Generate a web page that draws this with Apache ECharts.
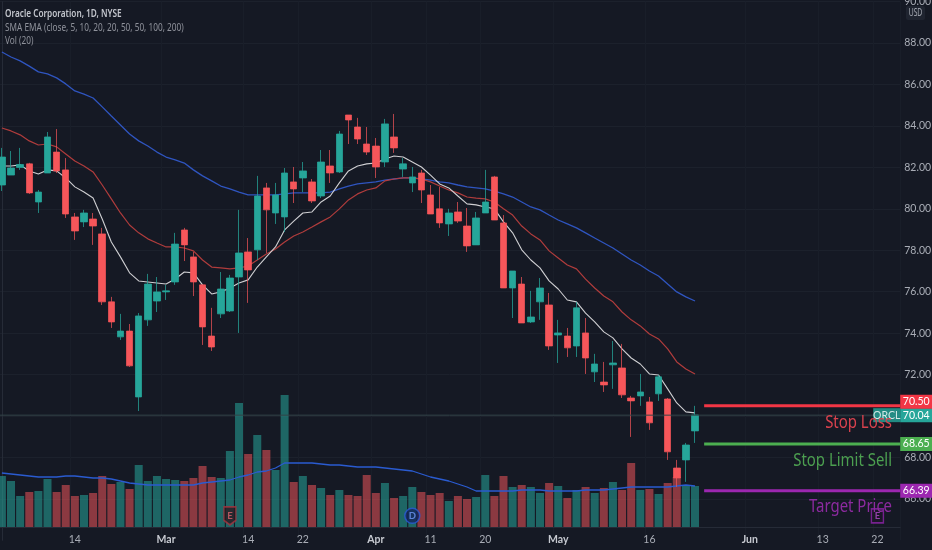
<!DOCTYPE html>
<html><head><meta charset="utf-8">
<style>html,body{margin:0;padding:0;background:#151924}#c{width:932px;height:550px}</style>
<script src="https://cdn.jsdelivr.net/npm/echarts@6/dist/echarts.min.js"></script>
</head><body><div id="c"></div>
<script>
const opens=[81.15,81.63,82.00,82.17,80.33,81.73,82.74,81.88,79.61,79.37,79.51,78.79,75.51,73.82,74.10,70.92,74.64,75.55,75.99,76.47,78.98,77.68,76.33,73.86,74.93,75.07,76.71,77.92,78.02,81.01,79.80,79.61,81.30,81.49,81.30,80.62,82.07,81.78,84.53,83.95,83.13,83.03,82.26,83.47,81.92,81.25,81.73,80.67,80.00,79.27,79.85,79.17,78.26,79.80,81.54,79.32,76.18,76.37,74.54,75.51,75.36,73.91,73.86,73.38,74.01,72.13,71.64,72.47,72.32,70.87,70.97,70.68,71.07,70.82,67.49,67.88,69.28];
const closes=[82.50,81.97,82.14,80.77,80.81,83.47,81.83,79.75,78.93,79.80,79.17,75.51,74.54,74.10,72.42,74.83,76.37,75.99,76.04,78.30,78.26,76.47,74.30,73.33,76.13,76.66,77.87,77.05,80.62,79.95,80.67,81.73,80.96,81.83,80.38,82.26,81.73,83.61,84.29,83.37,82.74,82.02,84.10,82.94,82.17,81.54,80.91,79.75,79.32,79.80,79.41,78.21,79.56,80.33,79.46,76.18,77.00,74.49,74.78,76.18,73.38,74.01,73.29,75.22,72.80,72.51,71.50,72.56,71.02,70.73,71.16,69.67,71.89,68.27,67.01,68.60,70.05];
const lows=[80.86,81.63,81.88,80.72,79.80,81.73,81.73,79.56,78.50,79.12,78.26,75.36,74.25,73.67,72.37,70.24,74.35,75.02,75.60,76.33,77.48,75.79,73.43,73.14,74.73,75.02,74.01,75.46,77.53,77.87,79.27,78.88,80.28,80.81,80.28,80.52,81.25,81.73,83.13,83.13,82.60,81.49,82.02,82.70,81.54,80.81,80.28,79.75,79.08,78.69,79.32,77.92,78.26,79.80,79.46,76.18,74.73,74.49,74.49,74.64,73.19,72.56,72.85,72.85,72.03,71.64,71.16,71.31,70.87,68.99,70.49,69.33,70.73,67.88,66.58,66.82,68.70];
const highs=[82.94,82.79,82.94,82.22,80.91,83.71,83.85,82.45,79.80,79.95,79.80,79.08,75.75,74.93,74.44,74.97,76.86,76.71,76.33,78.84,79.08,77.92,76.33,75.22,76.95,76.81,79.95,78.59,81.59,81.25,81.25,81.97,82.02,82.26,81.44,82.84,82.84,83.76,84.53,84.39,83.95,83.42,84.34,84.58,82.45,82.02,81.88,81.15,81.06,80.00,80.33,80.04,79.85,81.88,81.59,79.70,77.00,76.71,76.04,76.66,75.94,74.64,74.25,75.51,74.73,73.00,72.61,73.62,73.48,70.97,72.03,70.92,71.98,70.87,67.88,68.70,70.49];
const volumes=[12.75,11.5,7.75,8.75,9,12,8.75,10.5,7.75,8,8.5,12.75,10.75,11.25,9.5,15.5,11.5,12.75,12,11.75,11.5,12.25,15.25,12.5,12.25,19,31,18.25,23,19.25,14.25,33,11.25,12.75,10.5,9.75,8,9.25,8,7.75,13,8.5,11,7.25,7.75,10,8.75,8,8.5,6.5,7.75,7,7.5,13,7.75,12.75,10,10.5,10,8.5,11,10.25,7.25,9.25,10,8.5,9.75,11.25,9.25,16,9.25,9.5,8.25,11,12.5,10.5,10.25];
const volumeMA=[13.5,13.25,13,12.75,12.5,12.5,12.5,12.75,12.75,12.5,12.25,12.25,12,11.5,11,10.75,10.5,10.5,10.5,10.5,10.5,10.5,11,11.25,11.5,11.75,12.5,13,13.75,14,14.75,16,16,16,16,15.75,15.5,15.5,15.25,15,15,15,14.75,14.5,14.25,14,13.25,12.5,12,11.5,10.75,10,9,9,9,9,9,9.25,9.25,9.25,9,9,9,9,9.25,9.25,9.25,9.5,9.75,10,10,10,10,10,10.25,10.5,10.25];
const whiteMA=[82.07,82.07,82.12,81.83,81.68,81.88,81.83,81.49,81.06,80.81,80.52,79.51,78.40,77.68,76.91,76.52,76.47,76.42,76.37,76.61,76.95,76.91,76.33,75.89,75.99,76.18,76.42,76.57,77.19,77.68,78.16,78.98,79.41,79.80,79.85,80.33,80.62,81.25,81.83,82.07,82.17,82.21,82.41,82.55,82.50,82.26,82.02,81.63,81.20,81.01,80.62,80.24,80.19,80.09,80.00,79.37,78.84,78.02,77.53,77.15,76.52,76.13,75.60,75.51,74.97,74.54,74.06,73.77,73.24,72.80,72.51,72.03,71.98,71.31,70.63,70.20,70.15];
const redMA=[83.90,83.76,83.57,83.28,83.08,83.13,82.99,82.65,82.31,82.07,81.78,81.15,80.48,79.80,79.22,78.84,78.55,78.35,78.16,78.16,78.11,77.97,77.53,77.19,77.15,77.10,77.15,77.24,77.53,77.82,78.06,78.40,78.69,78.88,79.12,79.37,79.61,80.00,80.43,80.72,80.91,81.01,81.35,81.44,81.49,81.49,81.44,81.30,81.10,80.91,80.77,80.57,80.52,80.48,80.33,80.00,79.70,79.17,78.79,78.50,77.97,77.63,77.29,77.10,76.61,76.18,75.79,75.51,75.02,74.64,74.35,73.96,73.72,73.24,72.61,72.27,72.03];
const blueMA=[87.57,87.33,87.14,86.89,86.61,86.51,86.32,86.03,85.69,85.54,85.35,84.92,84.48,84.05,83.61,83.28,83.03,82.74,82.50,82.36,82.21,81.88,81.59,81.35,81.10,80.96,80.81,80.67,80.67,80.67,80.67,80.72,80.77,80.77,80.77,80.77,80.81,80.96,81.10,81.20,81.25,81.30,81.39,81.44,81.49,81.49,81.44,81.39,81.30,81.25,81.15,81.06,81.01,80.96,80.86,80.72,80.57,80.33,80.09,79.95,79.70,79.46,79.27,79.08,78.84,78.59,78.35,78.11,77.82,77.53,77.29,77.00,76.76,76.37,75.99,75.75,75.55];
const tickDays={8:'14',18:'Mar',27:'14',33:'22',41:'Apr',47:'11',53:'20',61:'May',71:'16',82:'Jun',90:'13',96:'22'};
const monthLabels=['Mar','Apr','May','Jun'];
const slotCount=99;
const levelPrices=[70.50,68.65,66.39];
const levelNames=['Stop Loss','Stop Limit Sell','Target Price'];
const levelTextPrices=[69.67,67.83,65.61];
const levelColors=['#f23645','#4caf50','#9c27b0'];
const levelTextColors=['#d9424e','#4c9f50','#8c2a9f'];
const levelTagShift=[-4,0,0];
const levelStartDay=77, lastDay=98.5, firstDay=-0.5, textEndDay=97.6;
const lastPrice=70.04;
const eventDays=[25,45,96];
const eventPrices=[65.18,65.18,65.18];
const eventLetters=['E','D','E'];
const legendLines=['Oracle Corporation, 1D, NYSE','SMA EMA (close, 5, 10, 20, 20, 50, 50, 100, 200)','Vol (20)'];

const FONT='"Noto Sans",sans-serif', AXISFONT='Lato,sans-serif';
const categories=Array.from({length:slotCount},(_,i)=>tickDays[i]||'');
const UP='#26a69a',DOWN='#f6565a';
const shield='path://M1 1 H11 V13 L6 17 L1 13 Z';
const tagStyle={color:'#fff',fontFamily:AXISFONT,fontSize:10.5,width:32,height:14,lineHeight:14,align:'center',verticalAlign:'middle'};
const levelSeries=levelPrices.map((p,k)=>({
  type:'line',name:levelNames[k],xAxisIndex:2,yAxisIndex:0,z:6,silent:true,clip:false,animation:false,
  data:[[levelStartDay,p],{value:[lastDay,p],label:{show:true,position:'right',distance:0,offset:[16,levelTagShift[k]],formatter:p.toFixed(2),backgroundColor:levelColors[k],...tagStyle}}],
  symbol:'circle',symbolSize:0,lineStyle:{color:levelColors[k],width:3}
}));
const eventStyles=[
 {symbol:shield,symbolSize:[12,18],itemStyle:{color:'#2a1a22',borderColor:'#a8333f',borderWidth:1.5},labelColor:'#d9606a'},
 {symbol:'circle',symbolSize:15,itemStyle:{color:'#14265c',borderColor:'#2a5bd7',borderWidth:1.5},labelColor:'#6f97f5'},
 {symbol:'rect',symbolSize:[12,14],itemStyle:{color:'#1d1528',borderColor:'#8e24aa',borderWidth:1.5},labelColor:'#b04cc8'}
];
const eventSeries=eventDays.map((d,k)=>({
  type:'scatter',xAxisIndex:2,yAxisIndex:0,z:7,silent:true,animation:false,
  symbol:eventStyles[k].symbol,symbolSize:eventStyles[k].symbolSize,itemStyle:eventStyles[k].itemStyle,
  data:[[d,eventPrices[k]]],
  label:{show:true,position:'inside',formatter:eventLetters[k],color:eventStyles[k].labelColor,fontFamily:AXISFONT,fontSize:9.5,fontWeight:'bold'}
}));
const maLine=(data,color,w)=>({type:'line',data,xAxisIndex:0,yAxisIndex:0,z:3,symbol:'none',silent:true,animation:false,lineStyle:{color,width:w}});
const option={
 backgroundColor:'#151924',animation:false,
 grid:[{left:-2.66,width:902.88,top:1.66,height:538.64,containLabel:false,outerBoundsMode:'none'},{left:-2.66,width:902.88,top:0,height:527,containLabel:false,outerBoundsMode:'none'}],
 xAxis:[
  {type:'category',gridIndex:0,data:categories,axisLine:{show:false},axisTick:{show:false},axisLabel:{show:false},
   splitLine:{show:true,interval:(i)=>!!tickDays[i],lineStyle:{color:'#191e29',width:1}}},
  {type:'category',gridIndex:1,data:categories,axisLine:{show:true,lineStyle:{color:'#262b37'}},axisTick:{show:false},
   axisLabel:{show:true,interval:0,margin:7,fontFamily:AXISFONT,fontSize:10.5,color:'#a9adb6',hideOverlap:false,
    formatter:(v)=>monthLabels.includes(v)?'{m|'+v+'}':v,rich:{m:{color:'#c6c9d0',fontWeight:700,fontFamily:AXISFONT,fontSize:10.5}}},splitLine:{show:false}},
  {type:'value',gridIndex:0,min:firstDay,max:lastDay,show:false,splitLine:{show:false}}
 ],
 yAxis:[
  {type:'value',gridIndex:0,position:'right',min:64,max:90,interval:2,scale:true,
   axisLine:{show:true,lineStyle:{color:'#262b37'}},axisTick:{show:false},
   axisLabel:{margin:4,fontFamily:AXISFONT,fontSize:10.5,color:'#a9adb6',showMinLabel:false,formatter:(v)=>v.toFixed(2)},
   splitLine:{show:true,showMinLine:false,lineStyle:{color:'#1c212c',width:1}}},
  {type:'value',gridIndex:1,min:0,max:131.75,show:false,splitLine:{show:false}}
 ],
 series:[
  {type:'bar',xAxisIndex:1,yAxisIndex:1,z:1,silent:true,barWidth:8,animation:false,
   data:volumes.map((v,i)=>({value:v,itemStyle:{color:closes[i]>=opens[i]?'rgba(38,166,154,0.55)':'rgba(246,86,90,0.53)'}}))},
  {type:'line',xAxisIndex:1,yAxisIndex:1,z:2,data:volumeMA,symbol:'none',silent:true,animation:false,lineStyle:{color:'#2a5bd0',width:1.3}},
  maLine(blueMA,'#2f55c0',1.3),
  maLine(redMA,'#b03c3c',1.2),
  maLine(whiteMA,'#cfcfd2',1.1),
  {type:'candlestick',xAxisIndex:0,yAxisIndex:0,z:4,silent:true,barWidth:7,animation:false,
   data:opens.map((o,i)=>[o,closes[i],lows[i],highs[i]]),
   itemStyle:{color:UP,color0:DOWN,borderColor:'rgba(38,166,154,0.75)',borderColor0:'rgba(246,86,90,0.7)',borderWidth:1}},
  {type:'line',xAxisIndex:2,yAxisIndex:0,z:5,silent:true,clip:false,animation:false,symbol:'circle',symbolSize:0,
   lineStyle:{color:'#34454a',width:1},
   data:[[firstDay,lastPrice],{value:[lastDay,lastPrice],label:{show:true,position:'right',distance:0,offset:[16,0],formatter:lastPrice.toFixed(2),backgroundColor:'#26a69a',...tagStyle}}]},
  {type:'scatter',xAxisIndex:2,yAxisIndex:0,z:7,silent:true,animation:false,symbolSize:0,
   data:[[lastDay,lastPrice]],
   label:{show:true,position:'left',distance:0,offset:[-13.5,0],formatter:'ORCL',backgroundColor:'#26a69a',...tagStyle,width:27}},
  ...levelSeries,...eventSeries
 ]
};
const chart=echarts.init(document.getElementById('c'),null,{renderer:'canvas'});
chart.setOption(option);
// Annotation texts are placed from their price through the chart's own axes.
const textX=chart.convertToPixel({xAxisIndex:2},textEndDay);
chart.setOption({graphic:[
  ...legendLines.map((t,k)=>({type:'text',x:5,y:14+k*13.6,scaleX:0.75,z:20,silent:true,
    style:{text:t,x:0,y:0,verticalAlign:'middle',fontFamily:FONT,fontSize:11,fontWeight:k===0?600:400,fill:k===0?'#c3c6cd':'#8f929b'}})),
  {type:'rect',x:906,y:6,z:20,silent:true,shape:{width:19,height:14,r:2},style:{fill:'#1f2430'}},
  {type:'text',x:915.5,y:13,scaleX:0.68,z:21,silent:true,style:{text:'USD',x:0,y:0,align:'center',verticalAlign:'middle',fontFamily:FONT,fontSize:10,fill:'#a9adb6'}},
  ...levelNames.map((n,k)=>({type:'text',x:textX,y:chart.convertToPixel({yAxisIndex:0},levelTextPrices[k]),scaleX:0.83,z:19,silent:true,
    style:{text:n,x:0,y:0,align:'right',verticalAlign:'middle',fontFamily:FONT,fontSize:18,fill:levelTextColors[k]}}))
]});
</script></body></html>
